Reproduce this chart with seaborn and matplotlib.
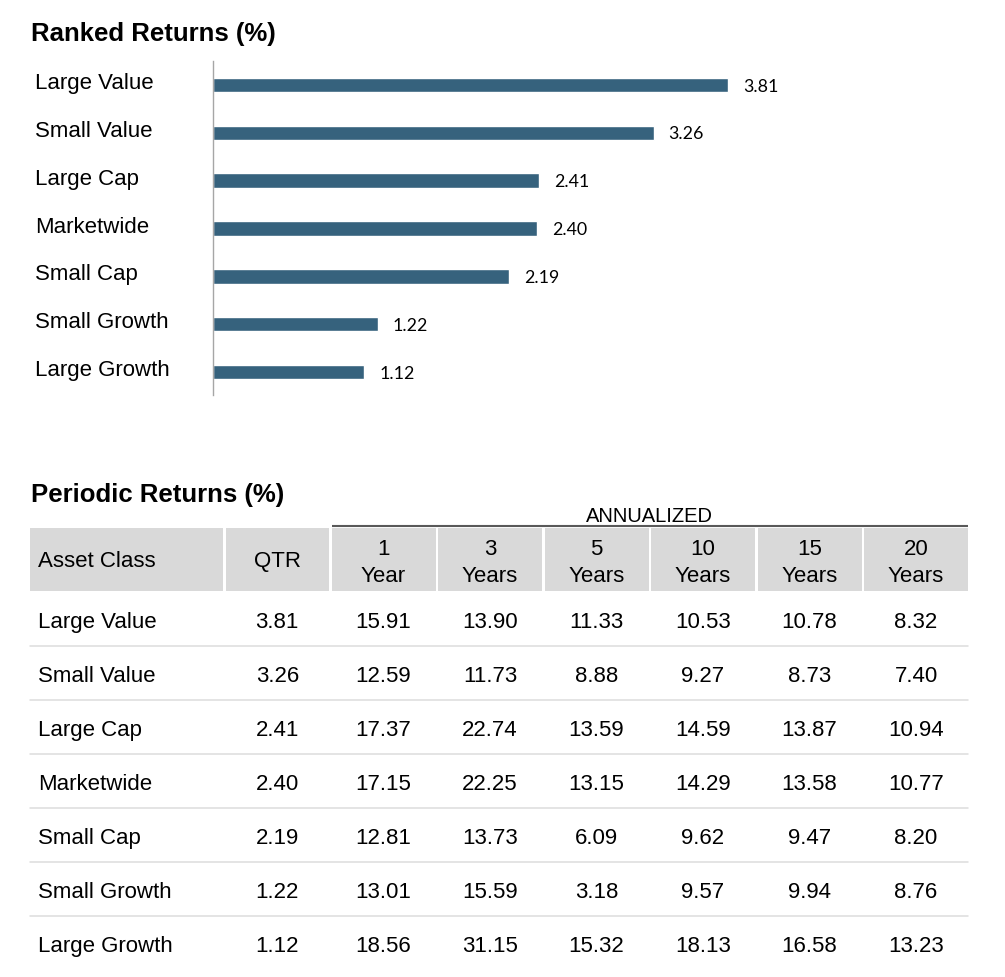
import matplotlib
matplotlib.use("Agg")
import matplotlib.pyplot as plt
import matplotlib.transforms as mtransforms
import seaborn as sns

sns.set_theme(style="white")
plt.rcParams["font.family"] = ["Liberation Sans", "DejaVu Sans"]
plt.rcParams["text.color"] = "black"

# ---------------- data ----------------
categories = ["Large Value", "Small Value", "Large Cap", "Marketwide",
              "Small Cap", "Small Growth", "Large Growth"]
qtr = [3.81, 3.26, 2.41, 2.40, 2.19, 1.22, 1.12]
one_year = [15.91, 12.59, 17.37, 17.15, 12.81, 13.01, 18.56]
three_years = [13.90, 11.73, 22.74, 22.25, 13.73, 15.59, 31.15]
five_years = [11.33, 8.88, 13.59, 13.15, 6.09, 3.18, 15.32]
ten_years = [10.53, 9.27, 14.59, 14.29, 9.62, 9.57, 18.13]
fifteen_years = [10.78, 8.73, 13.87, 13.58, 9.47, 9.94, 16.58]
twenty_years = [8.32, 7.40, 10.94, 10.77, 8.20, 8.76, 13.23]

header_single = ["Asset Class", "QTR"]
header_top = ["1", "3", "5", "10", "15", "20"]
header_bottom = ["Year", "Years", "Years", "Years", "Years", "Years"]
title_ranked = "Ranked Returns (%)"
title_periodic = "Periodic Returns (%)"
annualized_label = "ANNUALIZED"

BAR_COLOR = "#36627D"
W, H = 1005, 978

fig = plt.figure(figsize=(W / 100, H / 100), dpi=100)

# overlay axes in pixel coordinates for titles + table
axt = fig.add_axes([0, 0, 1, 1], zorder=0)
axt.set_xlim(0, W)
axt.set_ylim(H, 0)
axt.axis("off")

# ---------------- bar chart ----------------
ax_left, ax_top, ax_bottom = 213, 62, 396
px_per_unit = 515 / 3.81
xmax = 5.0
axb = fig.add_axes([ax_left / W, 1 - ax_bottom / H,
                    xmax * px_per_unit / W, (ax_bottom - ax_top) / H], zorder=1)
axb.patch.set_alpha(0)
sns.barplot(x=qtr, y=categories, orient="h", color=BAR_COLOR, width=0.3,
            saturation=1, ax=axb)
axb.set_xlim(0, xmax)
axb.set_ylim(6.48, -0.5)
axb.set_xticks([])
axb.set_yticks([])
axb.set_xlabel("")
axb.set_ylabel("")
for s in ["top", "right", "bottom"]:
    axb.spines[s].set_visible(False)
axb.spines["left"].set_color("#A6A6A6")
axb.spines["left"].set_linewidth(1.0)

blend = mtransforms.blended_transform_factory(fig.transFigure, axb.transData)
for i, (cat, v) in enumerate(zip(categories, qtr)):
    axb.text(35 / W, i + 0.065, cat, transform=blend, ha="left", va="baseline",
             fontsize=16, color="black")
    axb.annotate(f"{v:.2f}", xy=(v, i), xytext=(10.8, -0.5),
                 textcoords="offset points", ha="left", va="center",
                 fontsize=12.8, family=["Lato", "DejaVu Sans"], color="black")

# ---------------- titles ----------------
axt.text(31, 41, title_ranked, fontsize=18.5, fontweight="bold",
         ha="left", va="baseline")
axt.text(31, 502, title_periodic, fontsize=18.5, fontweight="bold",
         ha="left", va="baseline")

# ---------------- table ----------------
gap = 2.5
edges = [30, 225.5] + [331.5 + 106.5 * k for k in range(7)]
hdr_top_y, hdr_bot_y = 529, 592
HDR_FILL = "#D9D9D9"

for i in range(len(edges) - 1):
    axt.add_patch(plt.Rectangle((edges[i], hdr_top_y),
                                edges[i + 1] - gap - edges[i],
                                hdr_bot_y - hdr_top_y,
                                facecolor=HDR_FILL, edgecolor="none"))

def col_center(i):
    return (edges[i] + edges[i + 1] - gap) / 2

axt.text(38, 567, header_single[0], fontsize=16, ha="left", va="baseline")
axt.text(col_center(1), 567, header_single[1], fontsize=16, ha="center", va="baseline")
for k in range(6):
    axt.text(col_center(k + 2), 555, header_top[k], fontsize=16, ha="center", va="baseline")
    axt.text(col_center(k + 2), 582, header_bottom[k], fontsize=16, ha="center", va="baseline")

# annualized bar
axt.plot([edges[2], edges[-1] - gap], [526.5, 526.5], color="#595959", lw=1.5,
         solid_capstyle="butt")
axt.text((edges[2] + edges[-1] - gap) / 2, 521.5, annualized_label, fontsize=14.5,
         ha="center", va="baseline")

columns = [qtr, one_year, three_years, five_years, ten_years, fifteen_years, twenty_years]
row_h = 54
first_center = 619.5
for r, cat in enumerate(categories):
    cy = first_center + r * row_h
    axt.text(38, cy + 8.5, cat, fontsize=16, ha="left", va="baseline")
    for c, col in enumerate(columns):
        axt.text(col_center(c + 1), cy + 8.5, f"{col[r]:.2f}", fontsize=16,
                 ha="center", va="baseline")
    if r < len(categories) - 1:
        sep_y = cy + row_h / 2
        axt.plot([30, edges[-1] - gap], [sep_y, sep_y], color="#DDDDDD", lw=1.1)

fig.savefig("out.png", dpi=100)
